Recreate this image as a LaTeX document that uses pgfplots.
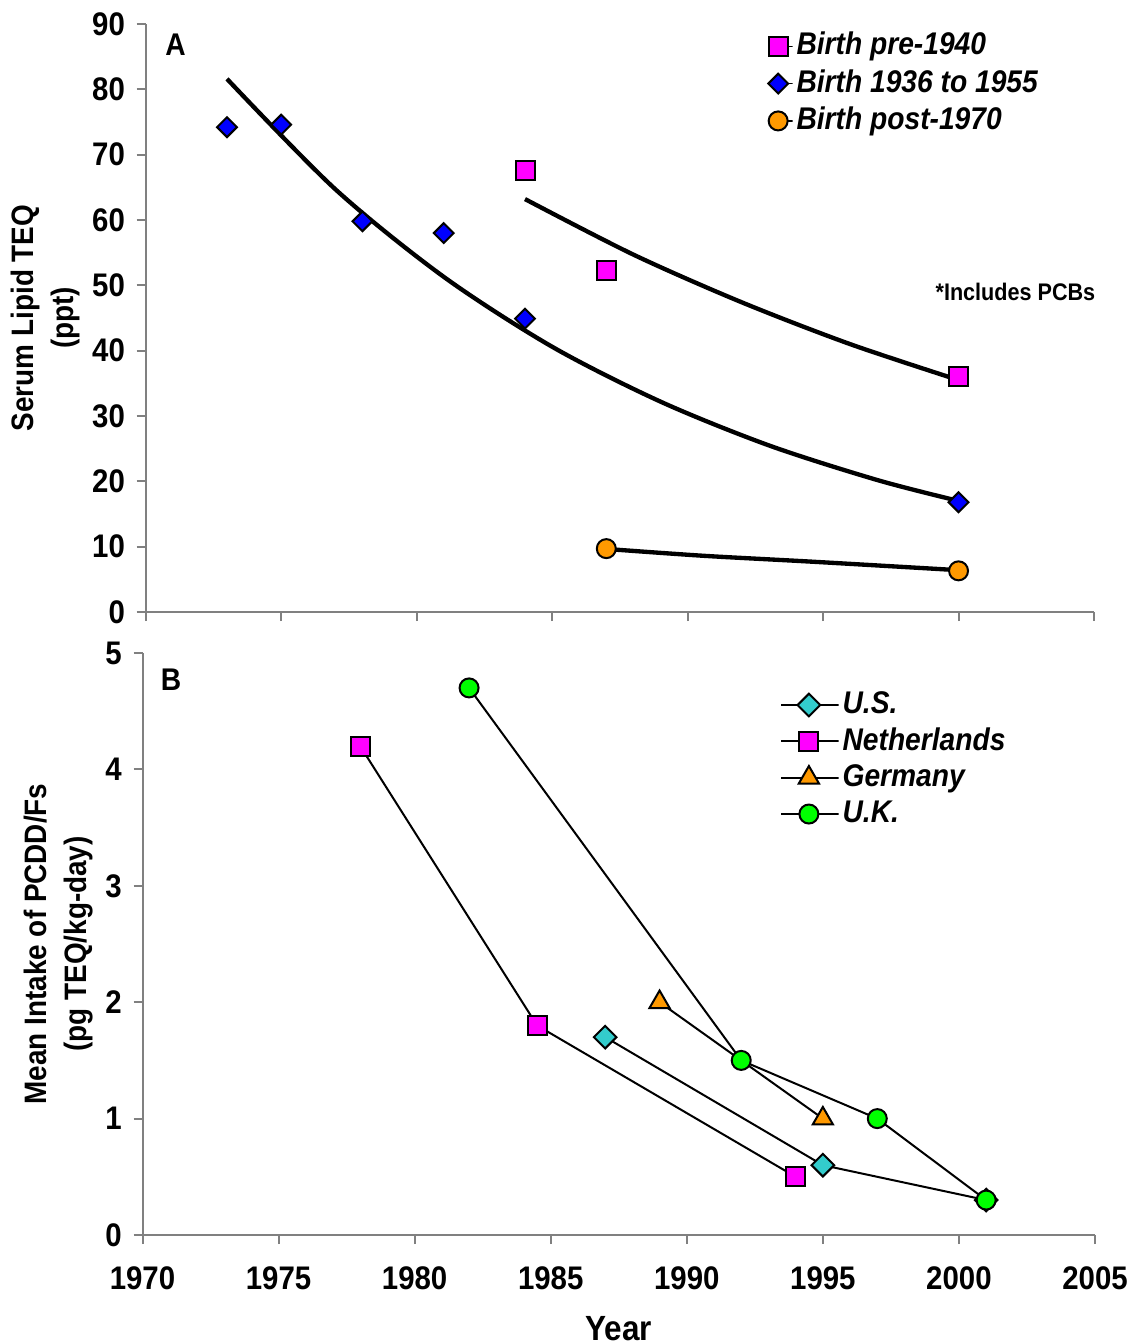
\documentclass[border=0pt]{standalone}
\usepackage{fontspec}
\setmainfont{Liberation Sans}[FakeStretch=0.9]
\usepackage{pgfplots}
\pgfplotsset{compat=1.18}

\definecolor{mag}{HTML}{FF00FF}
\definecolor{blu}{HTML}{0000FF}
\definecolor{org}{HTML}{FF9900}
\definecolor{cyn}{HTML}{33CCCC}
\definecolor{grn}{HTML}{00FF00}
\definecolor{axgray}{HTML}{808080}

\pgfplotsset{
  panel/.style={
    scale only axis,
    axis lines*=left,
    axis line style={axgray, line width=0.6pt},
    tick style={axgray, line width=0.6pt},
    tick align=outside,
    major tick length=2.7pt,
    xmin=1970, xmax=2005,
    xtick={1970,1975,...,2005},
    /pgf/number format/assume math mode=true,
    /pgf/number format/1000 sep={},
    ticklabel style={font=\bfseries\fontsize{9.8}{11}\selectfont},
    label style={font=\bfseries\fontsize{9.3}{12}\selectfont, align=center},
    legend cell align=left,
    clip=false,
  },
  mk/.style={mark options={fill=#1, draw=black, line width=0.6pt, solid}},
  dmk/.style={mark options={fill=#1, draw=black, line width=0.6pt, solid, rotate=45}},
}

\begin{document}
\begin{tikzpicture}
% ---------------- panel A ----------------
\begin{axis}[panel,
  at={(43.71pt,-183.6pt)}, anchor=south west,
  width=284.49pt, height=176.4pt,
  ymin=0, ymax=90, ytick={0,10,...,90},
  xticklabels={},
  ylabel={Serum Lipid TEQ\\(ppt)},
  ylabel style={at={(axis description cs:-0.1055,0.5)}, anchor=center},
  legend style={draw=none, fill=none, at={(axis description cs:0.655,0.995)},
    anchor=north west, inner sep=0pt, row sep=0pt,
    font=\bfseries\itshape\fontsize{9.4}{11}\selectfont,
    nodes={inner sep=1pt, text height=7.2pt, text depth=2pt}},
  legend image code/.code={\path (0pt,0pt) rectangle (7.3pt,0pt);
    \draw[mark repeat=2,mark phase=2,#1]
    plot coordinates {(0pt,0pt)(3pt,0pt)(6pt,0pt)};},
]
\addplot[only marks, mark=square*, mark size=2.85pt, mk=mag]
  coordinates {(1984,67.5)(1987,52.2)(2000,36.1)};
\addlegendentry{Birth pre-1940}
\addplot[only marks, mark=square*, mark size=2.1pt, dmk=blu]
  coordinates {(1973,74.2)(1975,74.6)(1978,59.8)(1981,58.0)(1984,44.9)(2000,16.8)};
\addlegendentry{Birth 1936 to 1955}
\addplot[only marks, mark=*, mark size=2.85pt, mk=org]
  coordinates {(1987,9.7)(2000,6.3)};
\addlegendentry{Birth post-1970}

% fitted trend lines
\addplot[forget plot, black, line width=1.3pt, smooth, no marks]
  coordinates {(1973,81.6)(1977,64.7)(1981,51.3)(1985,40.6)(1989,32.2)(1993,25.5)(1997,20.2)(2000,17.0)};
\addplot[forget plot, black, line width=1.3pt, smooth, no marks]
  coordinates {(1984,63.2)(1988,54.7)(1992,47.4)(1996,41.0)(2000,35.5)};
\addplot[forget plot, black, line width=1.3pt, smooth, no marks]
  coordinates {(1987,9.65)(1990.6,8.6)(1994.6,7.7)(2000,6.4)};

\node[font=\bfseries\fontsize{9.4}{11}\selectfont] at (axis cs:1971.1,86.8) {A};
\node[font=\bfseries\fontsize{7.2}{9}\selectfont] at (axis cs:2002.1,49.0) {*Includes PCBs};
\end{axis}

% ---------------- panel B ----------------
\begin{axis}[panel,
  at={(42.75pt,-370.5pt)}, anchor=south west,
  width=285.75pt, height=174.6pt,
  ymin=0, ymax=5, ytick={0,1,...,5},
  xticklabel style={yshift=-3.3pt},
  xlabel={Year},
  xlabel style={at={(axis description cs:0.5,0)}, anchor=center, yshift=-28pt,
    font=\bfseries\fontsize{10.5}{12}\selectfont},
  ylabel={Mean Intake of PCDD/Fs\\(pg TEQ/kg-day)},
  ylabel style={at={(axis description cs:-0.0877,0.5)}, anchor=center},
  legend style={draw=none, fill=none, at={(axis description cs:0.669,0.943)},
    anchor=north west, inner sep=0pt, row sep=0pt,
    font=\bfseries\itshape\fontsize{9.4}{11}\selectfont,
    nodes={inner sep=0.85pt, text height=7.2pt, text depth=2pt}},
  legend image code/.code={\path (0pt,0pt) rectangle (17.2pt,0pt);
    \draw[mark repeat=2,mark phase=2,#1]
    plot coordinates {(0pt,0pt)(8.25pt,0pt)(16.5pt,0pt)};},
]
\addplot[black, line width=0.6pt, mark=square*, mark size=2.4pt, dmk=cyn]
  coordinates {(1987,1.7)(1995,0.6)(2001,0.3)};
\addlegendentry{U.S.}
\addplot[black, line width=0.6pt, mark=square*, mark size=2.85pt, mk=mag]
  coordinates {(1978,4.2)(1984.5,1.8)(1994,0.5)};
\addlegendentry{Netherlands}
\addplot[black, line width=0.6pt, mark=triangle*, mark size=3.5pt, mk=org]
  coordinates {(1989,2.0)(1995,1.0)};
\addlegendentry{Germany}
\addplot[black, line width=0.6pt, mark=*, mark size=2.85pt, mk=grn]
  coordinates {(1982,4.7)(1992,1.5)(1997,1.0)(2001,0.3)};
\addlegendentry{U.K.}

\node[font=\bfseries\fontsize{9.4}{11}\selectfont] at (axis cs:1971.05,4.77) {B};
\end{axis}

\pgfresetboundingbox
\path[use as bounding box] (0pt,0pt) rectangle (338.4pt,-402.9pt);
\end{tikzpicture}
\end{document}
